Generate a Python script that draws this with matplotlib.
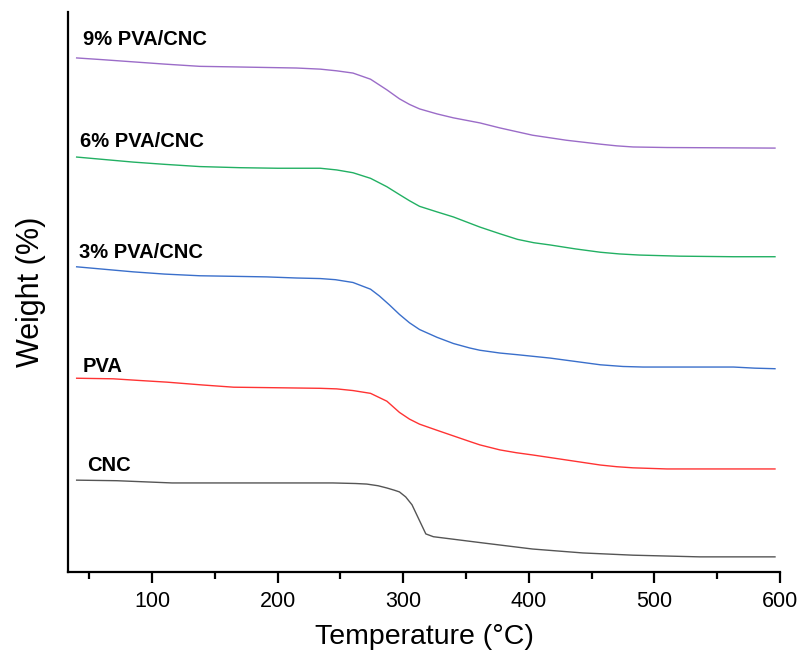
import matplotlib
matplotlib.use("Agg")
import matplotlib.pyplot as plt
from matplotlib.ticker import MultipleLocator

plt.rcParams['font.family'] = ['Liberation Sans', 'DejaVu Sans']

# TGA curves (weight offset per sample, arbitrary units)
t_9 = [40, 60, 85, 110, 138, 165, 190, 215, 234, 247, 260, 274, 287, 297, 305, 313, 327, 340,
       361, 377, 403, 430, 457, 470, 483, 510, 596]
w_9 = [91.8, 91.5, 91.1, 90.7, 90.3, 90.2, 90.1, 90.0, 89.8, 89.5, 89.1, 88.0, 86.1, 84.5, 83.5,
       82.7, 81.8, 81.1, 80.2, 79.3, 78.0, 77.1, 76.4, 76.1, 75.9, 75.8, 75.7]

t_6 = [40, 60, 85, 110, 138, 170, 200, 234, 247, 260, 274, 287, 297, 305, 313, 327, 340, 361,
       377, 391, 404, 417, 437, 457, 472, 488, 520, 563, 596]
w_6 = [74.1, 73.7, 73.2, 72.8, 72.4, 72.2, 72.1, 72.1, 71.8, 71.3, 70.3, 68.8, 67.4, 66.3, 65.3,
       64.3, 63.4, 61.6, 60.4, 59.4, 58.8, 58.4, 57.7, 57.1, 56.8, 56.6, 56.4, 56.3, 56.3]

t_3 = [40, 60, 85, 110, 138, 165, 191, 215, 234, 246, 260, 274, 281, 289, 297, 305, 313, 327,
       340, 353, 361, 377, 391, 417, 437, 457, 475, 491, 563, 580, 596]
w_3 = [54.5, 54.1, 53.6, 53.2, 52.9, 52.8, 52.7, 52.5, 52.4, 52.2, 51.7, 50.5, 49.3, 47.7, 46.0,
       44.5, 43.3, 41.9, 40.8, 40.0, 39.6, 39.1, 38.8, 38.2, 37.6, 37.0, 36.7, 36.6, 36.6, 36.4, 36.3]

t_pva = [40, 69, 90, 112, 140, 165, 200, 234, 247, 260, 274, 287, 297, 305, 313, 327, 340, 353,
         361, 377, 390, 403, 430, 445, 457, 470, 483, 510, 596]
w_pva = [34.6, 34.5, 34.2, 33.9, 33.4, 33.0, 32.9, 32.8, 32.7, 32.4, 31.9, 30.5, 28.5, 27.3, 26.4,
         25.3, 24.3, 23.3, 22.7, 21.8, 21.3, 20.9, 20.0, 19.5, 19.1, 18.8, 18.6, 18.4, 18.4]

t_cnc = [40, 72, 116, 244, 262, 271, 280, 287, 293, 297, 302, 307, 318, 324, 363, 403, 443, 483,
         536, 596]
w_cnc = [16.4, 16.3, 15.9, 15.9, 15.8, 15.7, 15.4, 15.0, 14.6, 14.3, 13.4, 12.0, 6.8, 6.3, 5.2,
         4.1, 3.4, 3.0, 2.7, 2.7]

names = ['9% PVA/CNC', '6% PVA/CNC', '3% PVA/CNC', 'PVA', 'CNC']
colors = ['#9b6cc8', '#22b063', '#3a6fcb', '#ff3333', '#555555']
label_x = [45, 43, 42, 45, 48]
label_y = [94.1, 75.9, 56.1, 35.7, 18.0]

fig = plt.figure(figsize=(8.01, 6.57), dpi=100)
ax = fig.add_axes([0.0855, 0.1294, 0.8883, 0.8523])

curves = [(t_9, w_9), (t_6, w_6), (t_3, w_3), (t_pva, w_pva), (t_cnc, w_cnc)]
for (t, w), c in zip(curves, colors):
    ax.plot(t, w, color=c, lw=1.0)

for name, x, y in zip(names, label_x, label_y):
    ax.text(x, y, name, fontsize=14.5, fontweight='bold', va='baseline', ha='left')

ax.set_xlim(33.5, 600)
ax.set_ylim(0, 100)
ax.xaxis.set_major_locator(MultipleLocator(100))
ax.xaxis.set_minor_locator(MultipleLocator(50))
ax.set_yticks([])
ax.spines['top'].set_visible(False)
ax.spines['right'].set_visible(False)
for s in ['left', 'bottom']:
    ax.spines[s].set_linewidth(1.6)
ax.tick_params(axis='x', which='major', length=8, width=1.6, labelsize=15.5, pad=6)
ax.tick_params(axis='x', which='minor', length=5, width=1.6)

ax.set_xlabel('Temperature (°C)', fontsize=20.5, labelpad=8)
ax.set_ylabel('Weight (%)', fontsize=22, labelpad=16)

fig.savefig('out.png', dpi=100)
